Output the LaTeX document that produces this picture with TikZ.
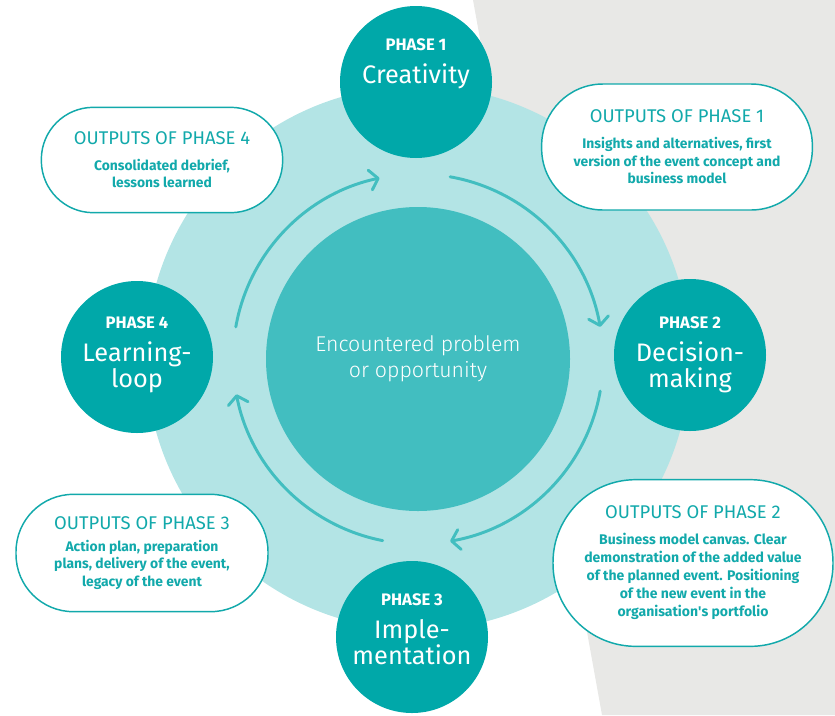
\documentclass[tikz,border=0pt]{standalone}
\usepackage{fontspec}
\setmainfont{Fira Sans}
\newfontfamily\thinfont{Fira Sans Light}
\usetikzlibrary{arrows.meta}

\definecolor{phaseteal}{HTML}{00A8A9}
\definecolor{ringblue}{HTML}{B3E4E5}
\definecolor{hubteal}{HTML}{42BEC0}
\definecolor{outteal}{HTML}{12A9AB}
\definecolor{backdrop}{HTML}{E8E8E6}

\tikzset{
  phase/.style={circle, fill=phaseteal, minimum size=114pt, inner sep=0pt},
  phasetext/.style={text=white, align=center, font=\fontsize{19}{19.5}\selectfont},
  output/.style={draw=outteal, line width=1.1pt, fill=white, text=outteal,
    align=center, inner sep=0pt, font=\fontsize{10.4}{13.2}\bfseries},
  cyc/.style={draw=hubteal, line width=2.2pt, line cap=round,
    -{Straight Barb[length=6pt, width=15pt, round]}}
}
\newcommand{\phasetag}[1]{{\fontsize{12.5}{13}\bfseries PHASE #1}}
\newcommand{\outtag}[1]{{\fontsize{13.8}{15}\mdseries OUTPUTS OF PHASE #1}}

\begin{document}
\begin{tikzpicture}[x=0.75pt, y=-0.75pt]
    \useasboundingbox (0,0) rectangle (835,715);

    % Grey backdrop on the right
    \fill[backdrop] (473,0) -- (835,0) -- (835,715) -- (602,715) -- cycle;

    % Ring and central problem
    \node[circle, fill=ringblue, minimum size=408pt] (ring) at (418,358) {};
    \node[circle, fill=hubteal, minimum size=228pt, text=white, align=center,
          font=\thinfont\fontsize{16}{19.5}\selectfont] (hub) at (418,359)
          {Encountered problem\\or opportunity};

    % Cycle arrows
    \draw[cyc] ([shift={(-80:185)}]hub.center) arc[start angle=-80, end angle=-10, radius=185];
    \draw[cyc] ([shift={(10:185)}]hub.center) arc[start angle=10, end angle=80, radius=185];
    \draw[cyc] ([shift={(101:185)}]hub.center) arc[start angle=101, end angle=169, radius=185];
    \draw[cyc] ([shift={(-170:185)}]hub.center) arc[start angle=-170, end angle=-102, radius=185];

    % Phase circles
    \node[phase] (phase1) at (416,82) {};
    \node[phase] (phase2) at (690,355) {};
    \node[phase] (phase3) at (412,637) {};
    \node[phase] (phase4) at (137,357) {};

    \node[phasetext] (name1) at (416,64) {\phasetag{1}\\[5pt]Creativity};
    \node[phasetext] (name2) at (690,355) {\phasetag{2}\\[5pt]Decision-\\making};
    \node[phasetext] (name3) at (412,629) {\phasetag{3}\\[5pt]Imple-\\mentation};
    \node[phasetext] (name4) at (137,355) {\phasetag{4}\\[5pt]Learning-\\loop};

    % Outputs
    \node[output, minimum width=203pt, minimum height=94.5pt, rounded corners=46pt] (out1) at (677,147)
      {\outtag{1}\\[6pt]Insights and alternatives, first\\version of the event concept and\\business model};
    \node[output, minimum width=210pt, minimum height=125pt, rounded corners=62pt,
          font=\fontsize{10.5}{13.5}\bfseries] (out2) at (693,563)
      {\outtag{2}\\[6pt]Business model canvas. Clear\\demonstration of the added value\\of the planned event. Positioning\\of the new event in the\\organisation\textquotesingle s portfolio};
    \node[output, minimum width=189pt, minimum height=88pt, rounded corners=43pt] (out3) at (142,553)
      {\outtag{3}\\[3pt]Action plan, preparation\\plans, delivery of the event,\\legacy of the event};
    \node[output, minimum width=181pt, minimum height=79pt, rounded corners=39pt] (out4) at (162,160)
      {\outtag{4}\\[6pt]Consolidated debrief,\\lessons learned};
\end{tikzpicture}
\end{document}
